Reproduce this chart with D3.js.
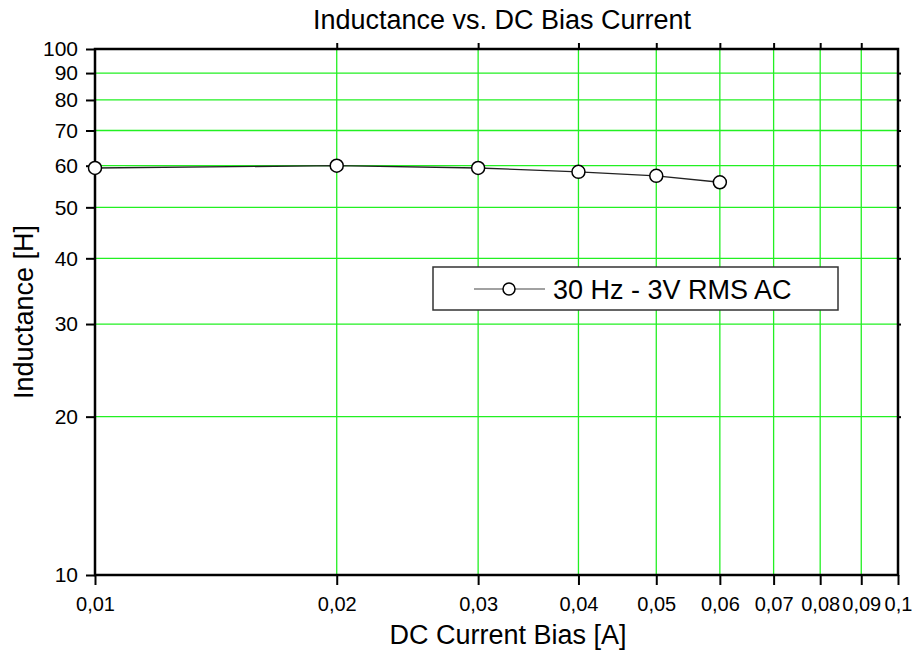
<!DOCTYPE html>
<meta charset="utf-8">
<html lang="en">
<head>
<title>Inductance vs. DC Bias Current</title>
<script src="https://d3js.org/d3.v7.min.js"></script>
<style>
  html, body { margin: 0; padding: 0; background: #fff; }
  svg { display: block; font-family: "Liberation Sans", Arial, sans-serif; }
</style>
</head>
<body>
<div id="chart"></div>
<script>
// data
const biasCurrent = [0.01, 0.02, 0.03, 0.04, 0.05, 0.06];   // A
const inductance  = [59.4, 60.0, 59.4, 58.4, 57.4, 55.8];   // H
const xTicks = [0.01, 0.02, 0.03, 0.04, 0.05, 0.06, 0.07, 0.08, 0.09, 0.1];
const yTicks = [10, 20, 30, 40, 50, 60, 70, 80, 90, 100];
const seriesName = "30 Hz - 3V RMS AC";

const W = 912, H = 652;
const margin = {top: 49, right: 14, bottom: 77, left: 95};
const GRID = "#22f022";

const svg = d3.select("#chart").append("svg")
    .attr("width", W).attr("height", H);

const x = d3.scaleLog().domain([0.01, 0.1]).range([margin.left, W - margin.right]);
const y = d3.scaleLog().domain([10, 100]).range([H - margin.bottom, margin.top]);

// grid
svg.append("g").selectAll("line")
    .data(xTicks.slice(1, -1)).enter().append("line")
    .attr("x1", d => x(d)).attr("x2", d => x(d))
    .attr("y1", y(100)).attr("y2", y(10))
    .attr("stroke", GRID).attr("stroke-width", 1.3);
svg.append("g").selectAll("line")
    .data(yTicks.slice(1, -1)).enter().append("line")
    .attr("x1", x(0.01)).attr("x2", x(0.1))
    .attr("y1", d => y(d)).attr("y2", d => y(d))
    .attr("stroke", GRID).attr("stroke-width", 1.3);

const fmt = d => String(+d.toFixed(2)).replace(".", ",");

// bottom axis
const gx = svg.append("g")
    .attr("transform", `translate(0,${y(10)})`)
    .call(d3.axisBottom(x).tickValues(xTicks).tickFormat(fmt).tickSizeInner(10).tickSizeOuter(0).tickPadding(12));
gx.select(".domain").remove();
gx.selectAll("line").attr("stroke", "#000").attr("stroke-width", 2);
gx.selectAll("text").attr("font-size", 20).attr("fill", "#000")
    .attr("font-family", "Liberation Sans, Arial, sans-serif");

// top axis (ticks only)
const gt = svg.append("g")
    .attr("transform", `translate(0,${y(100)})`)
    .call(d3.axisTop(x).tickValues(xTicks.slice(1, -1)).tickFormat("").tickSizeInner(6).tickSizeOuter(0));
gt.select(".domain").remove();
gt.selectAll("line").attr("stroke", "#000").attr("stroke-width", 2);

// left axis
const gy = svg.append("g")
    .attr("transform", `translate(${x(0.01)},0)`)
    .call(d3.axisLeft(y).tickValues(yTicks).tickFormat(d3.format("d")).tickSizeInner(9).tickSizeOuter(0).tickPadding(8));
gy.select(".domain").remove();
gy.selectAll("line").attr("stroke", "#000").attr("stroke-width", 2);
gy.selectAll("text").attr("font-size", 21).attr("fill", "#000")
    .attr("font-family", "Liberation Sans, Arial, sans-serif");

// right axis (small ticks)
const gr = svg.append("g")
    .attr("transform", `translate(${x(0.1)},0)`)
    .call(d3.axisRight(y).tickValues(yTicks.slice(1, -1)).tickFormat("").tickSizeInner(3).tickSizeOuter(0));
gr.select(".domain").remove();
gr.selectAll("line").attr("stroke", "#000").attr("stroke-width", 2);

// frame
svg.append("rect")
    .attr("x", x(0.01)).attr("y", y(100))
    .attr("width", x(0.1) - x(0.01)).attr("height", y(10) - y(100))
    .attr("fill", "none").attr("stroke", "#000").attr("stroke-width", 2.5);

// series
const pts = biasCurrent.map((c, i) => [c, inductance[i]]);
svg.append("path")
    .datum(pts)
    .attr("fill", "none").attr("stroke", "#222").attr("stroke-width", 1.3)
    .attr("d", d3.line().x(d => x(d[0])).y(d => y(d[1])));
svg.append("g").selectAll("circle")
    .data(pts).enter().append("circle")
    .attr("cx", d => x(d[0])).attr("cy", d => y(d[1])).attr("r", 6.5)
    .attr("fill", "#fff").attr("stroke", "#000").attr("stroke-width", 1.5);

// legend
const lg = svg.append("g").attr("transform", "translate(433,267)");
lg.append("rect").attr("width", 405).attr("height", 43)
    .attr("fill", "#fff").attr("stroke", "#333").attr("stroke-width", 1.5);
lg.append("line").attr("x1", 41).attr("x2", 112).attr("y1", 22).attr("y2", 22)
    .attr("stroke", "#444").attr("stroke-width", 1.2);
lg.append("circle").attr("cx", 76).attr("cy", 22).attr("r", 6)
    .attr("fill", "#fff").attr("stroke", "#000").attr("stroke-width", 1.5);
lg.append("text").attr("x", 120).attr("y", 31.5)
    .attr("font-size", 27).attr("fill", "#000").text(seriesName);

// titles
svg.append("text")
    .attr("x", 502).attr("y", 29).attr("text-anchor", "middle")
    .attr("font-size", 27).attr("fill", "#000")
    .text("Inductance vs. DC Bias Current");
svg.append("text")
    .attr("x", 508).attr("y", 644).attr("text-anchor", "middle")
    .attr("font-size", 27).attr("fill", "#000")
    .text("DC Current Bias [A]");
svg.append("text")
    .attr("transform", `translate(33,${(y(10) + y(100)) / 2}) rotate(-90)`)
    .attr("text-anchor", "middle")
    .attr("font-size", 27).attr("fill", "#000")
    .text("Inductance [H]");
</script>
</body>
</html>
